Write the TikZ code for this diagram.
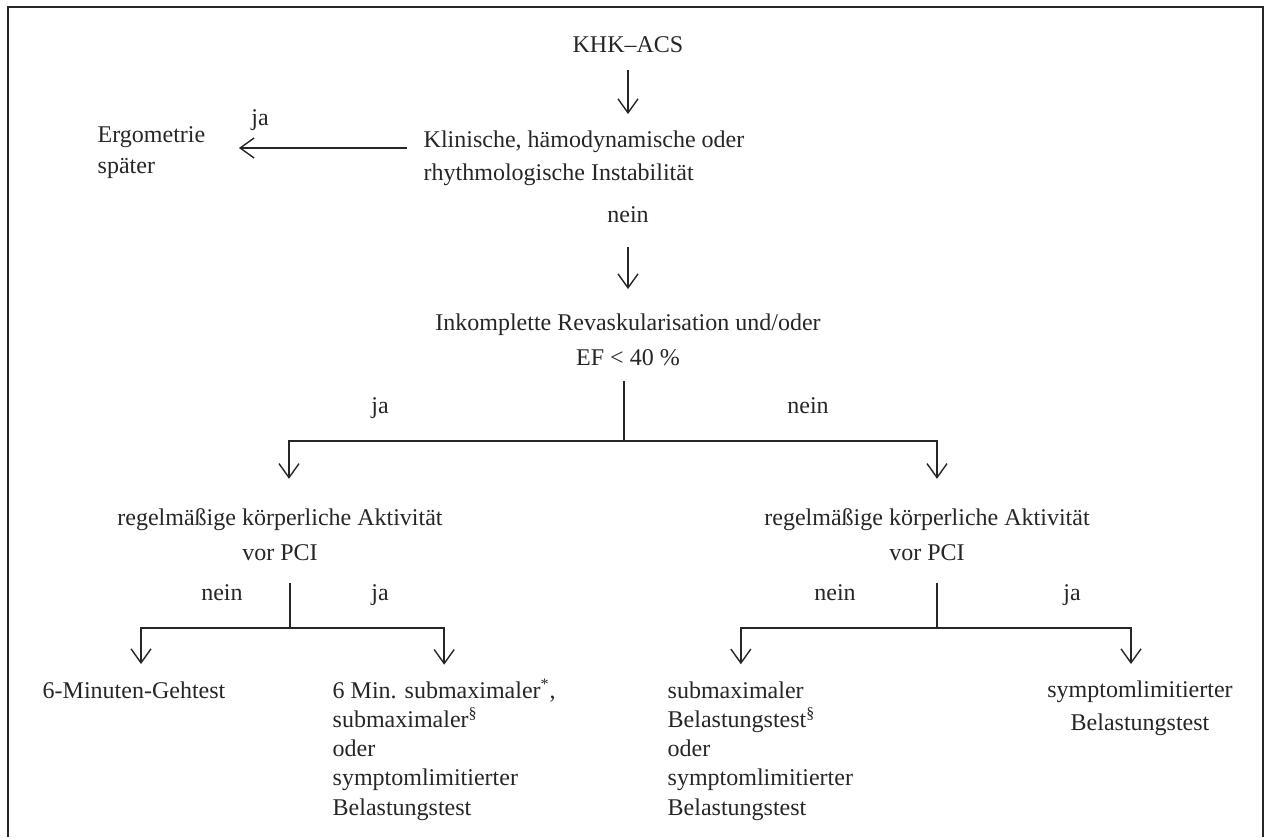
\documentclass[tikz,border=0pt]{standalone}
\usepackage{fontspec}
\setmainfont{Liberation Serif}
\usetikzlibrary{arrows.meta}

\begin{document}
\begin{tikzpicture}[x=0.5pt,y=-0.5pt,
        color=black!85, line width=0.7pt,
        every node/.style={inner sep=0pt, font=\fontsize{12}{16.5}\selectfont},
        block/.style={anchor=base west, align=left},
        zweizeilig/.style={anchor=base, align=center, font=\fontsize{12}{17.5}\selectfont},
        test/.style={anchor=base west, align=left, font=\fontsize{12}{14.6}\selectfont},
        pfeil/.style={-{Straight Barb[length=7pt,width=10pt]}}]
  \useasboundingbox (0,0) rectangle (1265,837);
  \draw (8,837) |- (1263,7) -- (1263,837);

  % multi-line nodes sit on their last line
  \node[anchor=base] (khk) at (628,52) {KHK–ACS};
  \node[block] (instab) at (423,180) {Klinische, hämodynamische oder\\rhythmologische Instabilität};
  \node[block, font=\fontsize{12}{15.5}\selectfont] (ergo) at (97,173) {Ergometrie\\später};
  \node[anchor=base] (ja1) at (260,125) {ja};
  \node[anchor=base] (nein1) at (628,222) {nein};
  \node[zweizeilig] (inkompl) at (628,365) {Inkomplette Revaskularisation und/oder\\EF < 40 \%};
  \node[anchor=base] (ja2) at (380,413) {ja};
  \node[anchor=base] (nein2) at (808,413) {nein};
  \node[zweizeilig] (aktl) at (280,560) {regelmäßige körperliche Aktivität\\vor PCI};
  \node[zweizeilig] (aktr) at (927,560) {regelmäßige körperliche Aktivität\\vor PCI};
  \node[anchor=base] (nein3) at (222,600) {nein};
  \node[anchor=base] (ja3) at (380,600) {ja};
  \node[anchor=base] (nein4) at (835,600) {nein};
  \node[anchor=base] (ja4) at (1072,600) {ja};
  \node[anchor=base west] (geh) at (42,698) {6-Minuten-Gehtest};
  \node[test] (submax) at (332,815) {6 Min. submaximaler\textsuperscript{*},\\submaximaler\textsuperscript{§}\\oder\\symptomlimitierter\\Belastungstest};
  \node[test] (submaxr) at (667,815) {submaximaler\\Belastungstest\textsuperscript{§}\\oder\\symptomlimitierter\\Belastungstest};
  \node[anchor=base, align=center] (symlim) at (1140,730) {symptomlimitierter\\Belastungstest};

  % oben
  \draw[pfeil, shorten <=9pt, shorten >=7.8pt] (khk.base) -- (khk.base |- instab.north);
  \draw[pfeil] ([xshift=-8pt,yshift=16pt]instab.base west) -- ([xshift=16.5pt,yshift=16pt]instab.base west -| ergo.east);
  \draw[pfeil, shorten <=12.5pt, shorten >=11.8pt] (nein1.base) -- (nein1.base |- inkompl.north);

  % erste Gabel
  \draw ([xshift=-2pt,yshift=-7.5pt]inkompl.south) -- ++(0,60) coordinate (gabel1);
  \draw[pfeil, shorten >=14.3pt] (gabel1) -| ([xshift=4.5pt]aktl.north);
  \draw[pfeil, shorten >=14.3pt] (gabel1) -| ([xshift=5pt]aktr.north);

  % untere Gabeln
  \draw ([xshift=5pt,yshift=-11pt]aktl.south) -- ++(0,45) coordinate (gabel2);
  \draw[pfeil, shorten >=8.3pt] (gabel2) -| ([xshift=3.5pt]geh.north);
  \draw[pfeil, shorten >=6.8pt] (gabel2) -| (submax.north);
  \draw ([xshift=5pt,yshift=-11pt]aktr.south) -- ++(0,45) coordinate (gabel3);
  \draw[pfeil, shorten >=8.3pt] (gabel3) -| ([xshift=-9.75pt]submaxr.north);
  \draw[pfeil, shorten >=7.8pt] (gabel3) -| ([xshift=-4.5pt]symlim.north);
\end{tikzpicture}
\end{document}
